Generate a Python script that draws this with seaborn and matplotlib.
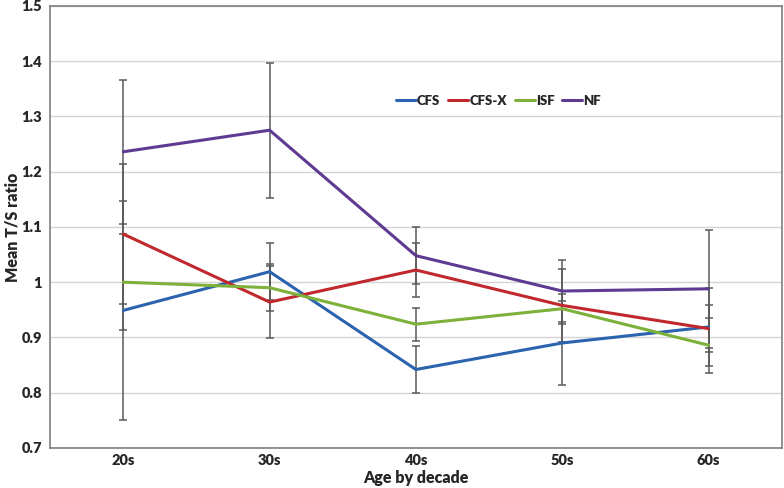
import matplotlib
matplotlib.use("Agg")
import matplotlib.pyplot as plt
import seaborn as sns
import pandas as pd
import numpy as np

# values
decades = ["20s", "30s", "40s", "50s", "60s"]
groups = ["CFS", "CFS-X", "ISF", "NF"]
cfs = [0.949, 1.019, 0.842, 0.890, 0.919]
cfs_x = [1.087, 0.964, 1.022, 0.958, 0.916]
isf = [1.000, 0.990, 0.924, 0.952, 0.886]
nf = [1.236, 1.275, 1.048, 0.984, 0.988]
cfs_err = [0.198, 0.051, 0.043, 0.076, 0.070]
cfs_x_err = [0.127, 0.065, 0.049, 0.066, 0.043]
isf_err = [0.087, 0.043, 0.030, 0.027, 0.050]
nf_err = [0.130, 0.122, 0.051, 0.056, 0.107]

colors = {"CFS": "#2B63AE", "CFS-X": "#C0282E", "ISF": "#7DB13A", "NF": "#5E3A92"}

means = {"CFS": cfs, "CFS-X": cfs_x, "ISF": isf, "NF": nf}
errs = {"CFS": cfs_err, "CFS-X": cfs_x_err, "ISF": isf_err, "NF": nf_err}

df = pd.DataFrame([
    {"group": g, "pos": i, "decade": d, "mean": means[g][i], "err": errs[g][i]}
    for g in groups
    for i, d in enumerate(decades)
])

sns.set_style("white")
plt.rcParams["font.family"] = ["Lato", "DejaVu Sans"]

fig = plt.figure(figsize=(7.84, 4.88), dpi=100)
ax = fig.add_axes([0.064, 0.082, 0.933, 0.906])

# error bars behind the lines
for g in groups:
    sub = df[df["group"] == g]
    ax.errorbar(sub["pos"], sub["mean"], yerr=sub["err"], fmt="none",
                ecolor="#5a5a5a", elinewidth=1.1, capsize=3, capthick=1.1, zorder=2)

sns.lineplot(data=df, x="pos", y="mean", hue="group", hue_order=groups,
             palette=colors, linewidth=2.2, ax=ax, zorder=3, legend=True)

ax.set_xlim(-0.5, 4.5)
ax.set_ylim(0.7, 1.5)
ax.set_xticks(range(len(decades)))
ax.set_xticklabels(decades)
ax.set_yticks(np.arange(0.7, 1.51, 0.1))
ax.set_yticklabels(["0.7", "0.8", "0.9", "1", "1.1", "1.2", "1.3", "1.4", "1.5"])
ax.yaxis.grid(True, color="#d4d4d4", linewidth=1)
ax.xaxis.grid(False)
ax.set_axisbelow(True)
ax.tick_params(axis="x", length=0, labelsize=10.5, pad=4)
ax.tick_params(axis="y", length=0, labelsize=10.5, pad=6)
for lab in ax.get_xticklabels() + ax.get_yticklabels():
    lab.set_fontweight("heavy")

for s in ax.spines.values():
    s.set_color("#7f7f7f")
    s.set_linewidth(1.2)

ax.set_xlabel("Age by decade", fontsize=11.5, fontweight="heavy")
ax.set_ylabel("Mean T/S ratio", fontsize=11.5, fontweight="heavy")
ax.xaxis.set_label_coords(0.5, -0.05)
ax.yaxis.set_label_coords(-0.04, 0.5)

leg = ax.legend(loc="center", bbox_to_anchor=(0.613, 0.785), ncol=4, frameon=False,
                handlelength=1.5, handletextpad=0.1, columnspacing=0.6,
                prop={"weight": "heavy", "size": 9.5})
for line in leg.get_lines():
    line.set_linewidth(2.2)

fig.savefig("out.png", dpi=100)
